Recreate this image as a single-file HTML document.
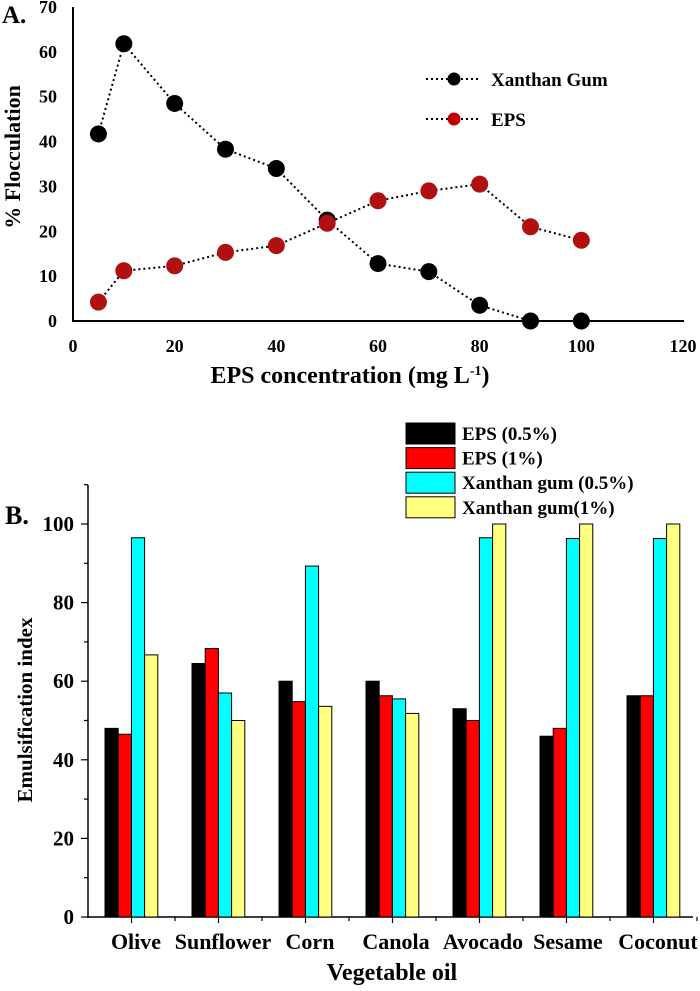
<!DOCTYPE html>
<html><head><meta charset="utf-8"><style>
body{margin:0;background:#fff}
svg text{font-family:"Liberation Serif",serif;font-weight:bold;fill:#000}
</style></head><body>
<svg id="s" width="700" height="986">
<g id="a"></g>
<g id="b"></g>
</svg>
<script>
const concX=[5,10,20,30,40,50,60,70,80,90,100];
const xanthanVals=[41.7,61.8,48.5,38.3,34,22.5,12.8,11,3.5,0,0];
const epsVals=[4.2,11.2,12.3,15.3,16.8,21.8,26.8,29,30.5,21,18];
const aXTicks=[0,20,40,60,80,100,120];
const aYTicks=[0,10,20,30,40,50,60,70];
const oils=["Olive","Sunflower","Corn","Canola","Avocado","Sesame","Coconut"];
const seriesNames=["EPS (0.5%)","EPS (1%)","Xanthan gum (0.5%)","Xanthan gum(1%)"];
const eps05=[48,64.5,60,60,53,46,56.3];
const eps1=[46.5,68.3,54.8,56.3,50,48,56.3];
const xg05=[96.5,57,89.3,55.5,96.5,96.3,96.3];
const xg1=[66.7,50,53.6,51.8,100,100,100];
const bYTicks=[0,20,40,60,80,100];
const NS="http://www.w3.org/2000/svg";
function mk(p,t,at,txt){const e=document.createElementNS(NS,t);for(const k in at)e.setAttribute(k,at[k]);if(txt!=null)e.textContent=txt;p.appendChild(e);return e;}
// Chart A
const A=document.getElementById('a');
const ax=v=>73+v*(610/120), ay=v=>321-v*(314/70);
let e=mk(A,'line',{x1:73,y1:7,x2:73,y2:321,stroke:'#000','stroke-width':2});

e=mk(A,'line',{x1:72,y1:321,x2:684,y2:321,stroke:'#000','stroke-width':2});

aYTicks.forEach(v=>{e=mk(A,'text',{x:57,y:ay(v)+6,'text-anchor':'end','font-size':18},v);
});
aXTicks.forEach(v=>{e=mk(A,'text',{x:ax(v),y:352,'text-anchor':'middle','font-size':18},v);
});
e=mk(A,'text',{x:2,y:23,'font-size':25},'A.');
e=mk(A,'text',{x:0,y:0,'font-size':22,'text-anchor':'middle',transform:'translate(20,157) rotate(-90)'},'% Flocculation');

e=mk(A,'text',{x:350,y:383,'font-size':24,'text-anchor':'middle'});

e.innerHTML='EPS concentration (mg L<tspan dy="-8" font-size="14">-1</tspan><tspan dy="8">)</tspan>';
[[xanthanVals,'#000','xanthan'],[epsVals,'#b01010','eps']].forEach(([vals,c,n])=>{
 e=mk(A,'polyline',{points:vals.map((v,i)=>ax(concX[i])+','+ay(v)).join(' '),fill:'none',stroke:'#000','stroke-width':2,'stroke-dasharray':'2 3'});
 
 vals.forEach((v,i)=>{e=mk(A,'circle',{cx:ax(concX[i]),cy:ay(v),r:8.5,fill:c});
 });
});
[['Xanthan Gum','#000',79],['EPS','#c00000',119]].forEach(([t,c,y])=>{
 e=mk(A,'line',{x1:426,y1:y,x2:480,y2:y,stroke:'#000','stroke-width':2,'stroke-dasharray':'2 3'});
 
 e=mk(A,'circle',{cx:454,cy:y,r:6.5,fill:c});
 e=mk(A,'text',{x:491,y:y+7,'font-size':19},t);
});
// Chart B
const B=document.getElementById('b');
const by=v=>917-v*3.93, gx=i=>131.5+i*87, bw=13.2;
e=mk(B,'line',{x1:88,y1:485,x2:88,y2:918,stroke:'#000','stroke-width':1.5});

e=mk(B,'line',{x1:87,y1:917,x2:693,y2:917,stroke:'#000','stroke-width':1.5});

for(let v=0;v<=110;v+=10){e=mk(B,'line',{x1:v%20==0?81:84,y1:by(v),x2:88,y2:by(v),stroke:'#000','stroke-width':1.2});
}
bYTicks.forEach(v=>{e=mk(B,'text',{x:74,y:by(v)+7,'text-anchor':'end','font-size':21},v);
});
const labX=[136,223,310,396,483,568,658];
oils.forEach((o,i)=>{
 e=mk(B,'line',{x1:gx(i),y1:917,x2:gx(i),y2:923,stroke:'#000','stroke-width':1.2});
 
 e=mk(B,'line',{x1:gx(i)+43.5,y1:917,x2:gx(i)+43.5,y2:921,stroke:'#000','stroke-width':1.2});
 
 e=mk(B,'text',{x:labX[i],y:949,'text-anchor':'middle','font-size':22},o);
 
});
const series=[eps05,eps1,xg05,xg1], cols=['#000','#ff0000','#00ffff','#ffff80'];
series.forEach((s,k)=>s.forEach((v,i)=>{
 e=mk(B,'rect',{x:gx(i)-26.5+k*bw,y:by(v),width:bw,height:917-by(v),fill:cols[k],stroke:'#000','stroke-width':1});
 
}));
seriesNames.forEach((n,k)=>{
 const y=423+k*24.6;
 e=mk(B,'rect',{x:406,y:y,width:49,height:21,fill:cols[k],stroke:'#000','stroke-width':1});
 
 e=mk(B,'text',{x:462,y:y+17,'font-size':19},n);
 
});
e=mk(B,'text',{x:5,y:524,'font-size':26},'B.');
e=mk(B,'text',{x:0,y:0,'font-size':21,'text-anchor':'middle',transform:'translate(32,710) rotate(-90)'},'Emulsification index');

e=mk(B,'text',{x:392,y:980,'font-size':24,'text-anchor':'middle'},'Vegetable oil');

</script>
</body></html>
